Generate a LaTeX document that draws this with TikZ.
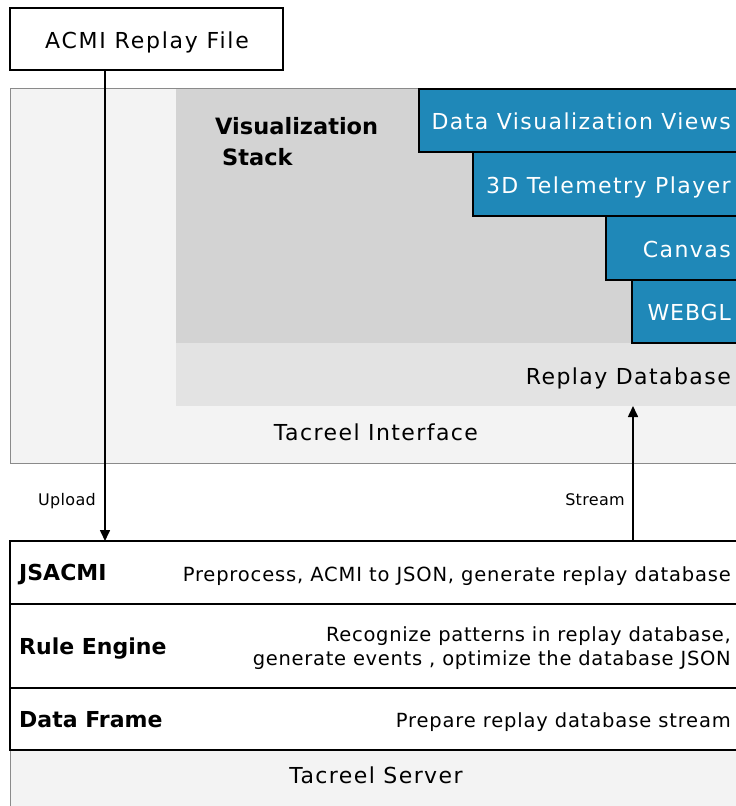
\documentclass[tikz,border=0pt]{standalone}
\usepackage{fontspec}
\setmainfont{DejaVu Sans}
\usetikzlibrary{arrows.meta}
\definecolor{blueb}{HTML}{1F88B8}
\definecolor{ifill}{HTML}{F3F3F3}
\definecolor{vfill}{HTML}{D3D3D3}
\definecolor{rfill}{HTML}{E3E3E3}
\definecolor{bgray}{HTML}{8A8A8A}
\tikzset{
  areabox/.style={anchor=north west, inner sep=0pt, outer sep=0pt},
  bluebox/.style={areabox, fill=blueb, draw=black, line width=1.5pt},
  rowbox/.style={areabox, fill=white, draw=black, line width=1.5pt},
  txt/.style={inner sep=0pt, text height=#1, text depth=0pt},
  bigfont/.style={font=\fontsize{22}{26}\selectfont\addfontfeatures{LetterSpace=6.5}},
  bluetxt/.style={txt=16pt, anchor=east, text=white, bigfont},
  maintxt/.style={txt=16pt, bigfont},
  desctxt/.style={txt=14.2pt, anchor=east, align=right, font=\fontsize{19.5}{24}\selectfont\addfontfeatures{LetterSpace=4.3}},
  boldtxt/.style={txt=16pt, anchor=west, font=\bfseries\fontsize{22}{26}\selectfont},
  smalltxt/.style={txt=11.7pt, font=\fontsize{16}{19}\selectfont\addfontfeatures{LetterSpace=2}},
  arr/.style={line width=1.6pt, -{Triangle[length=11pt,width=10pt]}}
}
\begin{document}
\begin{tikzpicture}[x=1pt,y=-1pt]
\useasboundingbox (0,0) rectangle (736,806);
\clip (0,0) rectangle (736,806);
% ACMI file
\node[areabox, draw=black, line width=1.5pt, minimum width=273pt, minimum height=62pt] (acmi) at (10,8) {};
\node[maintxt, font=\fontsize{22}{26}\selectfont\addfontfeatures{LetterSpace=8}] (acmit) at (147,40) {ACMI Replay File};
% Tacreel interface
\node[areabox, fill=ifill, minimum width=740pt, minimum height=375pt] (iface) at (10,88) {};
\node[areabox, fill=vfill, minimum width=570pt, minimum height=255pt] (vis) at (176,88) {};
\node[areabox, fill=rfill, minimum width=570pt, minimum height=63pt] (replay) at (176,343) {};
\draw[bgray, line width=1pt] (iface.north east) -- (iface.north west) -- (iface.south west) -- (iface.south east);
\node[boldtxt, txt=16.4pt, font=\bfseries\fontsize{22.5}{27}\selectfont] (vist1) at (215,126) {Visualization};
\node[boldtxt, txt=16.4pt, font=\bfseries\fontsize{22.5}{27}\selectfont] (vist2) at (222,157) {Stack};
\node[txt=16pt, anchor=east, bigfont] (replayt) at (731,376) {Replay Database};
\node[maintxt] (ifacet) at (376,432) {Tacreel Interface};
% blue stack
\node[bluebox, minimum width=330pt, minimum height=63pt] (dvv) at (419,89) {};
\node[bluebox, minimum width=276pt, minimum height=64pt] (tdp) at (473,152) {};
\node[bluebox, minimum width=143pt, minimum height=64pt] (canvas) at (606,216) {};
\node[bluebox, minimum width=117pt, minimum height=63pt] (webgl) at (632,280) {};
\node[bluetxt] (dvvt) at (731,121) {Data Visualization Views};
\node[bluetxt] (tdpt) at (731,185) {3D Telemetry Player};
\node[bluetxt] (canvast) at (731,249) {Canvas};
\node[bluetxt, font=\fontsize{22}{26}\selectfont\addfontfeatures{LetterSpace=4}] (webglt) at (731,312) {WEBGL};
% server rows
\node[areabox, fill=ifill, minimum width=740pt, minimum height=70pt] (server) at (10,750) {};
\draw[bgray, line width=1pt] (server.north east) -- (server.north west) -- (server.south west);
\node[maintxt] (servert) at (376,775) {Tacreel Server};
\node[rowbox, minimum width=740pt, minimum height=62pt] (dframe) at (10,688) {};
\node[rowbox, minimum width=740pt, minimum height=84pt] (rule) at (10,604) {};
\node[rowbox, minimum width=740pt, minimum height=63pt] (jsacmi) at (10,541) {};
\node[boldtxt] (jsacmit) at (19,572) {JSACMI};
\node[desctxt] (jsacmid) at (731,574) {Preprocess, ACMI to JSON, generate replay database};
\node[boldtxt] (rulet) at (19,646) {Rule Engine};
\node[desctxt, txt=38.2pt, font=\fontsize{19.5}{24}\selectfont\addfontfeatures{LetterSpace=3.6}] (ruled) at (731,646) {Recognize patterns in replay database,\\generate events , optimize the database JSON};
\node[boldtxt] (dframet) at (19,719) {Data Frame};
\node[desctxt] (dframed) at (731,720) {Prepare replay database stream};
% arrows
\coordinate (upx) at (105,0);
\coordinate (stx) at (633,0);
\draw[arr] (acmi.south -| upx) -- (jsacmi.north -| upx);
\draw[arr] (jsacmi.north -| stx) -- (replay.south -| stx);
\node[smalltxt] (upl) at (67,500) {Upload};
\node[smalltxt] (strl) at (595,500) {Stream};
\end{tikzpicture}
\end{document}
